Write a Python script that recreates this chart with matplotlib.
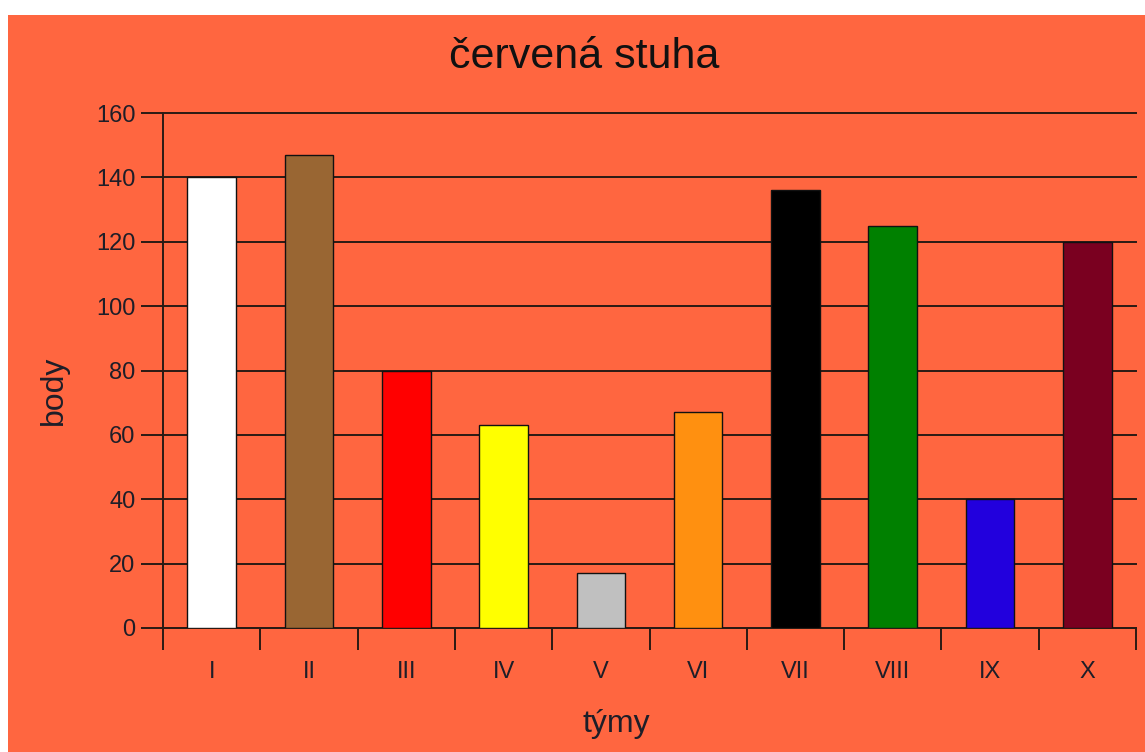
import matplotlib
matplotlib.use("Agg")
import matplotlib.pyplot as plt
from matplotlib.patches import Rectangle
from matplotlib.ticker import FixedLocator

teams = ["I", "II", "III", "IV", "V", "VI", "VII", "VIII", "IX", "X"]
points = [140, 147, 80, 63, 17, 67, 136, 125, 40, 120]
bar_colors = ["#FFFFFF", "#996633", "#FF0000", "#FFFF00", "#C0C0C0",
              "#FF9010", "#000000", "#008000", "#2200DD", "#7A0020"]
yticks = [0, 20, 40, 60, 80, 100, 120, 140, 160]

bg = "#FF6640"
dark = "#2a1a14"
txt = "#1e1e28"

plt.rcParams['font.family'] = ['Liberation Sans', 'DejaVu Sans']

fig = plt.figure(figsize=(11.45, 7.52), dpi=100)
fig.patch.set_facecolor("white")
fig.patches.append(Rectangle((8/1145, 0), 1 - 8/1145, 1 - 15/752,
                             transform=fig.transFigure, facecolor=bg,
                             edgecolor="none", zorder=-10))

ax = fig.add_axes([163/1145, 1 - 628/752, (1136 - 163)/1145, (628 - 113)/752])
ax.set_facecolor(bg)

x = list(range(len(teams)))
ax.bar(x, points, width=0.5, color=bar_colors, edgecolor="#111111",
       linewidth=1.0, zorder=3)

ax.set_xlim(-0.5, len(teams) - 0.5)
ax.set_ylim(0, 160)
ax.set_yticks(yticks)
ax.yaxis.grid(True, color=dark, linewidth=1.4, zorder=0)
ax.set_axisbelow(True)
for gl in ax.get_ygridlines():
    gl.set_clip_on(False)

ax.set_xticks(x)
ax.set_xticklabels(teams)
ax.xaxis.set_minor_locator(FixedLocator([i - 0.5 for i in range(len(teams) + 1)]))
ax.tick_params(axis="x", which="major", length=0, pad=24, labelsize=17,
               labelcolor=txt)
ax.tick_params(axis="x", which="minor", length=16, width=1.4, color=dark,
               direction="out")
ax.tick_params(axis="y", which="major", length=16, width=1.4, color=dark,
               direction="out", pad=3.8, labelsize=17, labelcolor=txt)

for s in ["top", "right"]:
    ax.spines[s].set_visible(False)
for s in ["left", "bottom"]:
    ax.spines[s].set_color(dark)
    ax.spines[s].set_linewidth(1.4)

fig.text(616/1145, 1 - 724/752, "týmy", fontsize=23, color=txt,
         ha="center", va="center")
fig.text(54/1145, 1 - 390/752, "body", fontsize=23, color=txt,
         ha="center", va="center", rotation=90)
fig.text(584/1145, 1 - 57/752, "červená stuha", fontsize=31, color="#111111",
         ha="center", va="center")

fig.savefig("out.png", dpi=100, facecolor=fig.get_facecolor())
